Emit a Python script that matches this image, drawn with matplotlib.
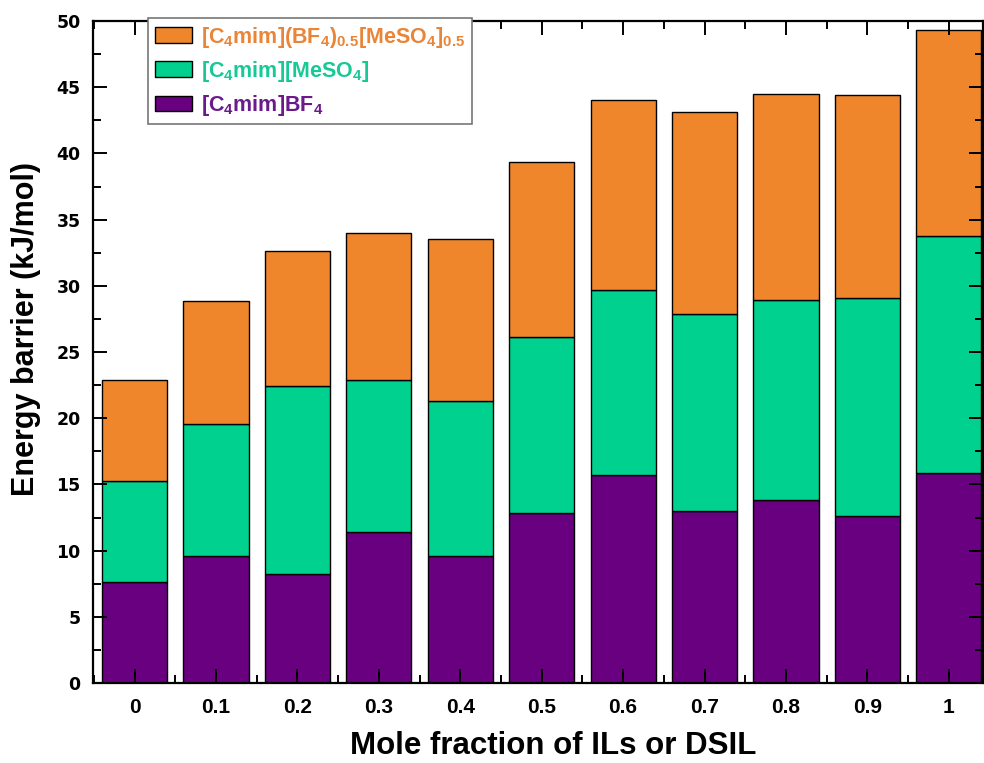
import matplotlib
matplotlib.use("Agg")
import matplotlib.pyplot as plt
from matplotlib.ticker import MultipleLocator
import numpy as np

# mole fractions on the x axis
fractions = ["0", "0.1", "0.2", "0.3", "0.4", "0.5", "0.6", "0.7", "0.8", "0.9", "1"]

# energy barrier contributions (kJ/mol), one layer per liquid
bf4 = [7.66, 9.60, 8.24, 11.37, 9.60, 12.84, 15.68, 13.00, 13.84, 12.63, 15.86]
meso4 = [7.62, 9.97, 14.16, 11.53, 11.70, 13.31, 14.02, 14.90, 15.06, 16.47, 17.89]
dsil = [7.62, 9.28, 10.20, 11.10, 12.20, 13.20, 14.30, 15.20, 15.55, 15.30, 15.55]

labels = [r"[C$_4$mim](BF$_4$)$_{0.5}$[MeSO$_4$]$_{0.5}$",
          r"[C$_4$mim][MeSO$_4$]",
          r"[C$_4$mim]BF$_4$"]

c_orange = "#F0862C"
c_green = "#00D18F"
c_purple = "#680080"
t_orange = "#EA8538"
t_green = "#16C996"
t_purple = "#6B1A8C"

plt.rcParams["font.family"] = ["Liberation Sans", "DejaVu Sans"]
plt.rcParams["mathtext.fontset"] = "custom"
plt.rcParams["mathtext.rm"] = "Liberation Sans:bold"
plt.rcParams["mathtext.it"] = "Liberation Sans:bold"
plt.rcParams["mathtext.bf"] = "Liberation Sans:bold"
plt.rcParams["mathtext.default"] = "rm"

fig = plt.figure(figsize=(9.84, 7.63), dpi=100)
ax = fig.add_axes([93 / 984, 1 - 683 / 763, 890 / 984, 662 / 763])

x = np.arange(len(fractions))
b1 = np.array(bf4)
b2 = np.array(meso4)
b3 = np.array(dsil)

kw = dict(width=0.8, edgecolor="black", linewidth=1.0)
p1 = ax.bar(x, b1, color=c_purple, **kw)
p2 = ax.bar(x, b2, bottom=b1, color=c_green, **kw)
p3 = ax.bar(x, b3, bottom=b1 + b2, color=c_orange, **kw)

ax.set_xlim(-0.51, 10.42)
ax.set_ylim(0, 50)
ax.set_xticks(x)
ax.set_xticklabels(fractions)
ax.xaxis.set_minor_locator(MultipleLocator(0.5))
ax.yaxis.set_major_locator(MultipleLocator(5))
ax.yaxis.set_minor_locator(MultipleLocator(2.5))

ax.tick_params(which="both", direction="in", top=True, right=True, width=1.4)
ax.tick_params(which="major", length=10)
ax.tick_params(which="minor", length=5.5)
ax.tick_params(axis="y", which="major", pad=9)
ax.tick_params(axis="x", which="major", pad=11)
for s in ax.spines.values():
    s.set_linewidth(1.6)

for lab in ax.get_yticklabels():
    lab.set_fontsize(12.5)
    lab.set_fontweight("bold")
    lab.set_family(["DejaVu Sans"])
for lab in ax.get_xticklabels():
    lab.set_fontsize(15)
    lab.set_fontweight("bold")

ax.set_ylabel("Energy barrier (kJ/mol)", fontsize=22, fontweight="bold")
ax.yaxis.set_label_coords(-0.058, 0.535)
ax.set_xlabel("Mole fraction of ILs or DSIL", fontsize=22.5, fontweight="bold")
ax.xaxis.set_label_coords(0.517, -0.072)

leg = ax.legend([p3, p2, p1], labels, loc="upper left",
                bbox_to_anchor=(0.062, 1.004), borderaxespad=0,
                fontsize=15.5, fancybox=False, framealpha=1,
                edgecolor="#777777", handlelength=1.75, handleheight=0.75,
                handletextpad=0.4, labelspacing=0.42, borderpad=0.3)
leg.get_frame().set_linewidth(1.2)
for txt, col in zip(leg.get_texts(), [t_orange, t_green, t_purple]):
    txt.set_color(col)
    txt.set_fontweight("bold")

fig.savefig("out.png", dpi=100)
